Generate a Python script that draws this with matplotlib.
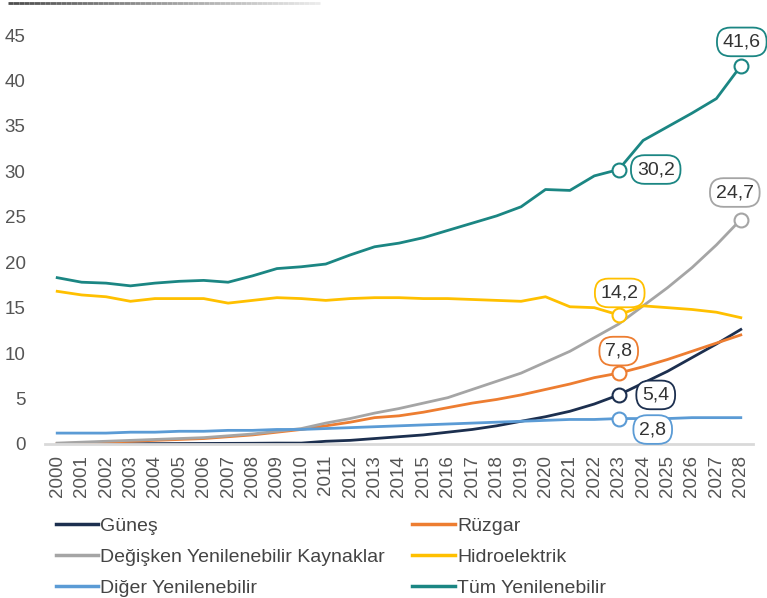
import numpy as np
import matplotlib
matplotlib.use('Agg')
import matplotlib.pyplot as plt
from matplotlib.collections import LineCollection

plt.rcParams['font.family'] = ['Liberation Sans', 'DejaVu Sans']

years = list(range(2000, 2029))

gunes = [0.02, 0.02, 0.03, 0.03, 0.04, 0.05, 0.06, 0.07, 0.08, 0.1, 0.1,
         0.3, 0.4, 0.6, 0.8, 1.0, 1.3, 1.6, 2.0, 2.5, 3.0, 3.6, 4.4, 5.4,
         6.7, 8.0, 9.5, 11.0, 12.6]
ruzgar = [0.05, 0.1, 0.2, 0.3, 0.4, 0.5, 0.6, 0.8, 1.0, 1.3, 1.6,
          2.0, 2.4, 2.9, 3.1, 3.5, 4.0, 4.5, 4.9, 5.4, 6.0, 6.6, 7.3, 7.8,
          8.5, 9.3, 10.2, 11.1, 12.0]
degisken = [0.1, 0.2, 0.3, 0.4, 0.5, 0.6, 0.7, 0.9, 1.1, 1.4, 1.7,
            2.3, 2.8, 3.4, 3.9, 4.5, 5.1, 6.0, 6.9, 7.8, 9.0, 10.2, 11.7, 13.2,
            15.2, 17.2, 19.4, 21.9, 24.7]
hidro = [16.8, 16.4, 16.2, 15.7, 16.0, 16.0, 16.0, 15.5, 15.8, 16.1, 16.0,
         15.8, 16.0, 16.1, 16.1, 16.0, 16.0, 15.9, 15.8, 15.7, 16.2, 15.1, 15.0, 14.2,
         15.2, 15.0, 14.8, 14.5, 13.9]
diger = [1.2, 1.2, 1.2, 1.3, 1.3, 1.4, 1.4, 1.5, 1.5, 1.6, 1.6,
         1.7, 1.8, 1.9, 2.0, 2.1, 2.2, 2.3, 2.4, 2.5, 2.6, 2.7, 2.7, 2.8,
         2.8, 2.8, 2.9, 2.9, 2.9]
tum = [18.3, 17.8, 17.7, 17.4, 17.7, 17.9, 18.0, 17.8, 18.5, 19.3, 19.5,
       19.8, 20.8, 21.7, 22.1, 22.7, 23.5, 24.3, 25.1, 26.1, 28.0, 27.9, 29.5, 30.2,
       33.4, 34.9, 36.4, 38.0, 41.6]

names = ['Güneş', 'Rüzgar', 'Değişken Yenilenebilir Kaynaklar', 'Hidroelektrik',
         'Diğer Yenilenebilir', 'Tüm Yenilenebilir']
series = [gunes, ruzgar, degisken, hidro, diger, tum]
colors = ['#1c2f4f', '#ed7d31', '#a5a5a5', '#ffc000', '#5b9bd5', '#1b8683']

# labelled points: (series index, year, text offset in pixels)
marks = [(5, 2023, (37, 0)), (5, 2028, (1, 24)), (2, 2028, (-6, 27)),
         (3, 2023, (1, 22)), (1, 2023, (0, 22)), (0, 2023, (37, 0)),
         (4, 2023, (34, -11))]

fig = plt.figure(figsize=(7.67, 5.98), dpi=100)
ax = fig.add_axes([45/767, 1-444/598, 708/767, 409/598])

for s, c in zip(series, colors):
    ax.plot(years, s, color=c, lw=2)

for i, yr, off in marks:
    v = series[i][years.index(yr)]
    ax.plot(yr, v, 'o', ms=10, mfc='white', mec=colors[i], mew=1.5, zorder=5, clip_on=False)
    ax.annotate(('%.1f' % v).replace('.', ','), (yr, v), xytext=off, textcoords='offset pixels',
                ha='center', va='center', fontsize=14, color='#333333', zorder=6,
                bbox=dict(boxstyle='round,pad=0.3,rounding_size=0.7', fc='white',
                          ec=colors[i], lw=1.3))

ax.set_xlim(1999.5, 2028.5)
ax.set_ylim(0, 45)
ax.set_xticks(years)
ax.set_xticklabels([str(y) for y in years], rotation=90)
ax.set_yticks(range(0, 46, 5))
ax.tick_params(length=0, labelsize=13.5, labelcolor='#555555')
ax.tick_params(axis='y', pad=14)
ax.tick_params(axis='x', pad=8)
for sp in ['top', 'right', 'left']:
    ax.spines[sp].set_visible(False)
ax.spines['bottom'].set_color('#d9d9d9')
ax.spines['bottom'].set_linewidth(2)

# legend, two columns filled row by row
order = [0, 2, 4, 1, 3, 5]
handles = [plt.Line2D([], [], color=colors[k], lw=2.5) for k in order]
fig.legend(handles, [names[k] for k in order], loc='upper left',
           bbox_to_anchor=(38/767, 1-500/598), ncol=2,
           frameon=False, fontsize=14, labelcolor='#444444', handlelength=2.2,
           handletextpad=0.1, columnspacing=1.4, labelspacing=0.68)

# gradient rule at top-left
xs = np.linspace(8/767, 320/767, 60)
segs = [[(xs[k], 1-3/598), (xs[k+1], 1-3/598)] for k in range(len(xs)-1)]
grey = np.linspace(0.3, 0.92, len(segs))
lc = LineCollection(segs, colors=[(g, g, g) for g in grey], linewidths=2,
                    transform=fig.transFigure)
fig.add_artist(lc)

fig.savefig('out.png', dpi=100, facecolor='white')
